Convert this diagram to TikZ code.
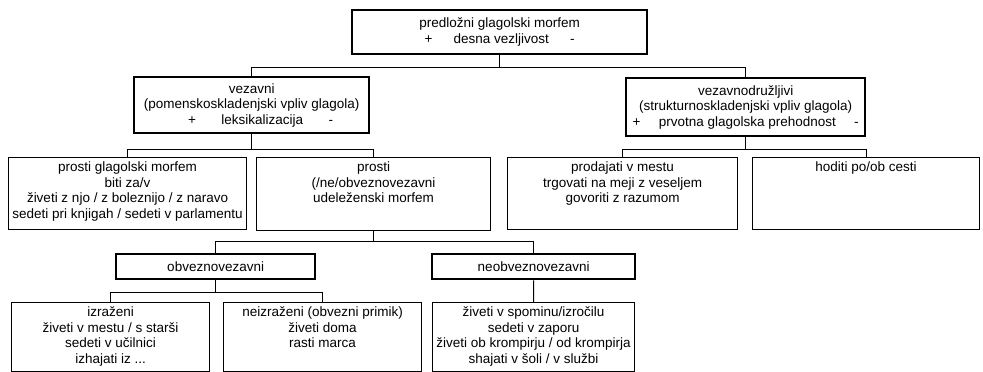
\documentclass[tikz,border=0pt]{standalone}
\usepackage{fontspec}
\setmainfont{Liberation Sans}
\usetikzlibrary{calc}

\newcommand{\midcell}[3]{\parbox[c][#2pt][c]{#1pt}{\centering #3}}
\newcommand{\topcell}[3]{\parbox[c][#2pt][t]{#1pt}{\centering\rule{0pt}{14pt}#3}}
\newcommand{\plusminus}[2]{\makebox[#1pt]{+\hfill #2\hfill -}}

\begin{document}
\begin{tikzpicture}[x=1pt,y=-1pt,
  every node/.style={font=\fontsize{13.5}{15.5}\selectfont},
  catbox/.style={draw, line width=2.3pt, inner sep=0pt, anchor=north west},
  exbox/.style={draw, line width=1.1pt, inner sep=0pt, anchor=north west},
  link/.style={line width=1pt}]
\useasboundingbox (0,0) rectangle (983,372);

\node[catbox] (top) at (351,9) {\midcell{295}{44}{predložni glagolski morfem\\ \plusminus{150}{desna vezljivost}}};

\node[catbox] (vez) at (133,76) {\midcell{235}{56}{vezavni\\ (pomenskoskladenjski vpliv glagola)\\ \hspace*{18pt}\plusminus{145}{leksikalizacija}}};
\node[catbox] (vzd) at (625,77) {\midcell{239}{58}{vezavnodružljivi\\ (strukturnoskladenjski vpliv glagola)\\ \plusminus{226}{prvotna glagolska prehodnost}}};

\node[exbox] (pg) at (8,157) {\topcell{238}{72}{prosti glagolski morfem\\ biti za/v\\ živeti z njo / z boleznijo / z naravo\\ sedeti pri knjigah / sedeti v parlamentu}};
\node[exbox] (pr) at (256,157) {\topcell{234}{73}{prosti\\ (/ne/obveznovezavni\\ udeleženski morfem}};
\node[exbox] (prod) at (507,157) {\topcell{230}{72}{prodajati v mestu\\ trgovati na meji z veseljem\\ govoriti z razumom}};
\node[exbox] (hod) at (752,157) {\topcell{227}{72}{hoditi po/ob cesti}};

\node[catbox] (obv) at (115,253) {\midcell{199}{25}{obveznovezavni}};
\node[catbox] (neo) at (431,253) {\midcell{203}{25}{neobveznovezavni}};

\node[exbox] (izr) at (11,302) {\topcell{198}{69}{izraženi\\ živeti v mestu / s starši\\ sedeti v učilnici\\ izhajati iz ...}};
\node[exbox] (nei) at (223,302) {\topcell{198}{69}{neizraženi (obvezni primik)\\ živeti doma\\ rasti marca}};
\node[exbox] (neoex) at (432,302) {\topcell{202}{69}{živeti v spominu/izročilu\\ sedeti v zaporu\\ živeti ob krompirju / od krompirja\\ shajati v šoli / v službi}};

\coordinate (j1) at ($(top.south)+(0,12)$);
\coordinate (j2) at ($(vez.south)+(0,15)$);
\coordinate (j3) at ($(vzd.south)+(0,12)$);
\coordinate (j4) at ($(pr.south)+(0,10)$);
\coordinate (j5) at ($(obv.south)+(0,12)$);

\draw[link] (top.south) -- (j1) -| (vez.north);
\draw[link] (j1) -| (vzd.north);
\draw[link] (vez.south) -- (j2) -| (pg.north);
\draw[link] (j2) -| (pr.north);
\draw[link] (vzd.south) -- (j3) -| (prod.north);
\draw[link] (j3) -| (hod.north);
\draw[link] (pr.south) -- (j4) -| (obv.north);
\draw[link] (j4) -| (neo.north);
\draw[link] (obv.south) -- (j5) -| (izr.north);
\draw[link] (j5) -| (nei.north);
\draw[link] (neo.south) -- (neoex.north);
\end{tikzpicture}
\end{document}
